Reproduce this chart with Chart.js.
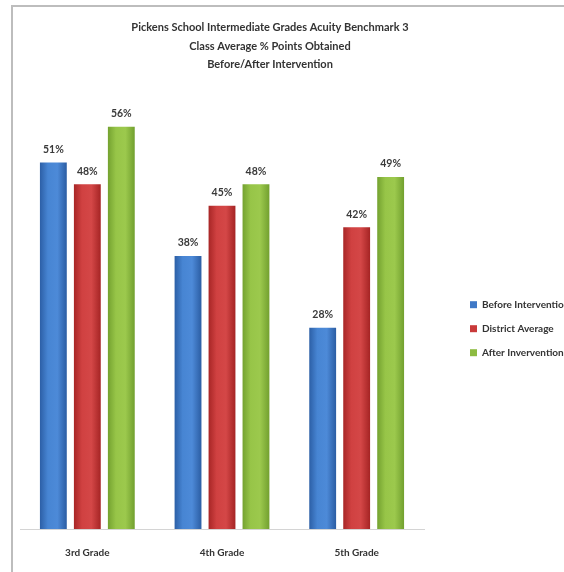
<!DOCTYPE html>
<html>
<head>
<meta charset="utf-8">
<script src="https://cdn.jsdelivr.net/npm/chart.js@4"></script>
<style>
  body { margin: 0; background: #fff; overflow: hidden; }
  #marco { position: absolute; left: 11px; top: 5px; width: 553px; height: 567px; border-top: 2px solid #bdbdbd; border-left: 2px solid #bdbdbd; }
  #grafica { position: absolute; left: 0; top: 0; }
</style>
</head>
<body>
<div id="marco"></div>
<canvas id="grafica" width="564" height="572"></canvas>
<script>
const fuente = 'Lato, "Liberation Sans", sans-serif';

const grados = ['3rd Grade', '4th Grade', '5th Grade'];
const antes = [51, 38, 28];
const distrito = [48, 45, 42];
const despues = [56, 48, 49];
const series = ['Before Intervention', 'District Average', 'After Invervention'];
const titulo = ['Pickens School Intermediate Grades Acuity Benchmark 3', 'Class Average % Points Obtained', 'Before/After Intervention'];

const colores = [
  ['#2c5fa6', '#4785d3', '#4d8ad8', '#2b5da3'],
  ['#a82626', '#d04141', '#d44747', '#a52424'],
  ['#74a230', '#97c548', '#9cc94d', '#72a02f']
];
const solidos = ['#3f78c6', '#c93a3a', '#8dbb41'];

const catPct = 0.757;
const barPct = 0.79;

// relleno con degradado horizontal, calculado desde la escala x
function relleno(i) {
  return c => {
    const xs = c.chart.scales.x;
    if (!xs || !isFinite(xs.width) || xs.width <= 0 || c.dataIndex === undefined) return solidos[i];
    const slot = (xs.width / grados.length) * catPct / series.length;
    const centro = xs.getPixelForValue(c.dataIndex) + (i - 1) * slot;
    const mitad = slot * barPct / 2;
    if (!isFinite(centro)) return solidos[i];
    const g = c.chart.ctx.createLinearGradient(centro - mitad, 0, centro + mitad, 0);
    g.addColorStop(0, colores[i][0]);
    g.addColorStop(0.3, colores[i][1]);
    g.addColorStop(0.65, colores[i][2]);
    g.addColorStop(1, colores[i][3]);
    return g;
  };
}

const etiquetas = {
  id: 'etiquetas',
  afterDatasetsDraw(chart) {
    const ctx = chart.ctx;
    ctx.save();
    ctx.font = 'bold 10.5px ' + fuente;
    ctx.fillStyle = '#3a3a3a';
    ctx.textAlign = 'center';
    ctx.textBaseline = 'middle';
    chart.data.datasets.forEach((ds, i) => {
      chart.getDatasetMeta(i).data.forEach((bar, j) => {
        ctx.fillText(ds.data[j] + '%', bar.x, bar.y - 13);
      });
    });
    ctx.restore();
  }
};

const datos = [antes, distrito, despues];

const config = {
  type: 'bar',
  data: {
    labels: grados,
    datasets: datos.map((d, i) => ({
      label: series[i],
      data: d,
      backgroundColor: relleno(i),
      borderWidth: 0,
      categoryPercentage: catPct,
      barPercentage: barPct
    }))
  },
  options: {
    responsive: false,
    animation: false,
    layout: { padding: { left: -24, right: 0, top: 0, bottom: -5 } },
    plugins: {
      title: {
        display: true,
        text: titulo,
        color: '#333',
        font: { family: fuente, size: 11, weight: 'bold', lineHeight: 1.68 },
        padding: { top: 18.5, bottom: 24 }
      },
      legend: {
        position: 'right',
        align: 'center',
        maxWidth: 108,
        title: { display: true, text: '', padding: { top: 0, bottom: 66 } },
        labels: {
          boxWidth: 7,
          boxHeight: 7,
          padding: 14,
          color: '#333',
          font: { family: fuente, size: 10, weight: 'bold' },
          generateLabels: chart => Chart.defaults.plugins.legend.labels.generateLabels(chart).map((l, i) => {
            l.fillStyle = solidos[i];
            l.strokeStyle = solidos[i];
            l.lineWidth = 0;
            return l;
          })
        }
      },
      tooltip: { enabled: false }
    },
    scales: {
      x: {
        grid: { display: false, drawTicks: false },
        border: { display: true, color: '#d4d4d4', width: 1 },
        ticks: { padding: 18, color: '#333', font: { family: fuente, size: 10, weight: 'bold' } }
      },
      y: {
        min: 0,
        max: 60,
        grid: { display: false, drawTicks: false },
        border: { display: false },
        ticks: { display: false },
        afterFit: s => { s.width = 44; }
      },
      espacio: {
        type: 'linear',
        position: 'right',
        grid: { display: false, drawTicks: false },
        border: { display: false },
        ticks: { display: false },
        afterFit: s => { s.width = 32; }
      }
    }
  },
  plugins: [etiquetas]
};

const miGrafica = new Chart(document.getElementById('grafica').getContext('2d'), config);
</script>
</body>
</html>
